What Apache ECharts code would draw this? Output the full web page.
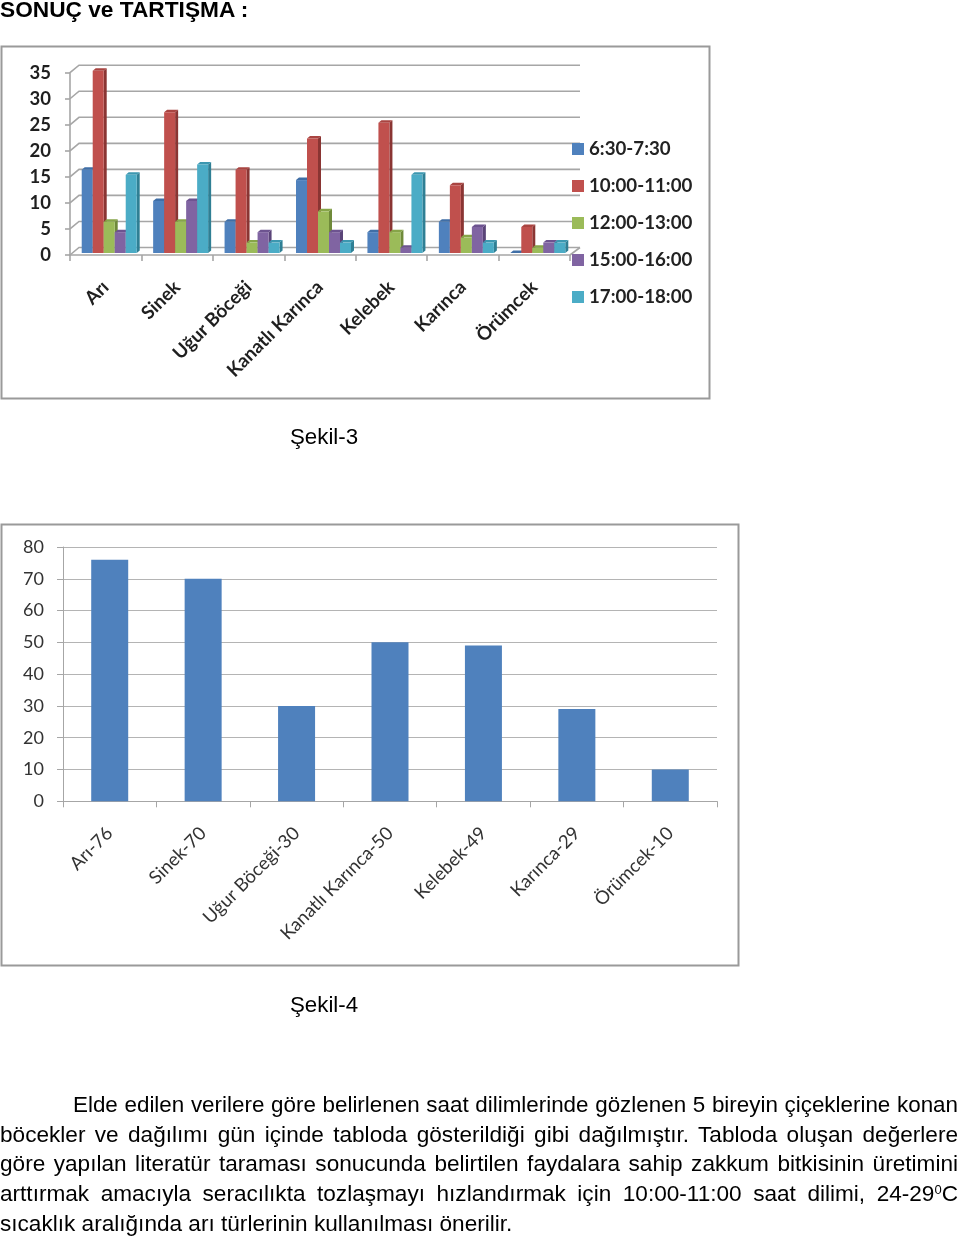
<!DOCTYPE html>
<html lang="tr">
<head>
<meta charset="utf-8">
<script src="https://cdn.jsdelivr.net/npm/echarts@6/dist/echarts.min.js"></script>
<style>
html,body{margin:0;padding:0;background:#fff;width:960px;height:1239px;overflow:hidden}
#chart{position:absolute;left:0;top:0;width:960px;height:1239px}
.t{position:absolute;font-family:"Liberation Sans",Arial,sans-serif;font-size:22.6px;color:#000;white-space:nowrap;line-height:26px}
.j{left:0;width:958px;white-space:normal;text-align:justify;text-align-last:justify}
sup{font-size:13px;line-height:0;vertical-align:7px}
</style>
</head>
<body>
<div id="chart"></div>
<div class="t" style="left:0;top:-4px;font-weight:bold;font-size:22.7px">SONUÇ ve TARTIŞMA :</div>
<div class="t" style="left:290px;top:424px;font-size:22.3px">Şekil-3</div>
<div class="t" style="left:290px;top:992px;font-size:22.3px">Şekil-4</div>
<div class="t j" style="top:1092px;left:73px;width:885px;font-size:22.4px">Elde edilen verilere göre belirlenen saat dilimlerinde gözlenen 5 bireyin çiçeklerine konan</div>
<div class="t j" style="top:1122px">böcekler ve dağılımı gün içinde tabloda gösterildiği gibi dağılmıştır. Tabloda oluşan değerlere</div>
<div class="t j" style="top:1151px">göre yapılan literatür taraması sonucunda belirtilen faydalara sahip zakkum bitkisinin üretimini</div>
<div class="t j" style="top:1181px">arttırmak amacıyla seracılıkta tozlaşmayı hızlandırmak için 10:00-11:00 saat dilimi, 24-29<sup>0</sup>C</div>
<div class="t" style="left:0;top:1211px">sıcaklık aralığında arı türlerinin kullanılması önerilir.</div>
<script>
const insects = ['Arı','Sinek','Uğur Böceği','Kanatlı Karınca','Kelebek','Karınca','Örümcek'];
const slotNames = ['6:30-7:30','10:00-11:00','12:00-13:00','15:00-16:00','17:00-18:00'];
const slot1 = [16,10,6,14,4,6,0];
const slot2 = [35,27,16,22,25,13,5];
const slot3 = [6,6,2,8,4,3,1];
const slot4 = [4,10,4,4,1,5,2];
const slot5 = [15,17,2,2,15,2,2];
const ticks1 = [0,5,10,15,20,25,30,35];
const totalNames = ['Arı-76','Sinek-70','Uğur Böceği-30','Kanatlı Karınca-50','Kelebek-49','Karınca-29','Örümcek-10'];
const totals = [76,70,30,50,49,29,10];

const slots = [slot1,slot2,slot3,slot4,slot5];
const faces = ['#4f81bd','#c0504d','#9bbb59','#8064a2','#4bacc6'];
const sides = ['#36608f','#8a3533','#6f8a3a','#5a4478','#2f7f94'];
const tops  = ['#3f6ea6','#a94441','#86a548','#6d5390','#3c97b0'];
const font1 = 'Lato, sans-serif';
const gridLine = '#a6a6a6';
const depthX = 3, depthY = 2.5, barW = 11;

function wallItem(params, api){
  const p = api.coord([0, api.value(1)]);
  const cs = params.coordSys;
  const y = p[1], x0 = cs.x, x1 = cs.x + cs.width;
  const children = [{type:'polyline',shape:{points:[[x0,y],[x0+9,y-7.5],[x1+10,y-7.5]]},
    style:{stroke:gridLine,lineWidth:1.6,fill:null}}];
  if (api.value(1) === 0) children.push({type:'line',shape:{x1:x1,y1:y,x2:x1+10,y2:y-7.5},style:{stroke:gridLine,lineWidth:1.6}});
  return {type:'group',children};
}
function barItem(s){
  return function(params, api){
    const c = api.coord([api.value(0), api.value(1)]);
    const b = api.coord([api.value(0), 0]);
    const x = c[0] - 24 + s * barW;
    const yT = c[1] - 2, yB = b[1] - 2;
    return {type:'group',children:[
      {type:'polygon',shape:{points:[[x+barW,yT],[x+barW+depthX,yT-depthY],[x+barW+depthX,yB-depthY],[x+barW,yB]]},style:{fill:sides[s]}},
      {type:'polygon',shape:{points:[[x,yT],[x+depthX,yT-depthY],[x+barW+depthX,yT-depthY],[x+barW,yT]]},style:{fill:tops[s]}},
      {type:'rect',shape:{x:x,y:yT,width:barW,height:yB-yT},style:{fill:faces[s]}}
    ]};
  };
}
const series = [{type:'custom',name:'wall',silent:true,xAxisIndex:0,yAxisIndex:0,z:1,clip:false,
  data:ticks1.map(t=>[0,t]),encode:{x:0,y:1},renderItem:wallItem}];
slots.forEach((vals,s)=>series.push({type:'custom',name:slotNames[s],xAxisIndex:0,yAxisIndex:0,z:3,clip:false,
  itemStyle:{color:faces[s]},data:vals.map((v,i)=>[i,v]),encode:{x:0,y:1},renderItem:barItem(s)}));
series.push({type:'bar',name:'Toplam',xAxisIndex:1,yAxisIndex:1,barWidth:37,data:totals,
  itemStyle:{color:'#4f81bd'},z:3});

const chart = echarts.init(document.getElementById('chart'),null,{renderer:'canvas'});
chart.setOption({
  animation:false,
  backgroundColor:'#fff',
  graphic:[
    {type:'rect',z:0,shape:{x:1.5,y:46.5,width:708,height:352},style:{fill:'#fff',stroke:'#9a9a9a',lineWidth:2}},
    {type:'rect',z:0,shape:{x:1.5,y:524.5,width:737,height:441},style:{fill:'#fff',stroke:'#9a9a9a',lineWidth:2}}
  ],
  legend:{show:true,data:slotNames,orient:'vertical',left:572,top:138,padding:0,itemWidth:12,itemHeight:12,itemGap:15,
    icon:'rect',textStyle:{fontFamily:font1,fontWeight:'bold',fontSize:18.7,color:'#222',lineHeight:22}},
  grid:[
    {left:70,top:72.7,width:500,height:182.3,containLabel:false},
    {left:63,top:547,width:654,height:254.3,containLabel:false}
  ],
  xAxis:[
    {type:'category',gridIndex:0,data:insects,boundaryGap:true,
      axisLine:{lineStyle:{color:gridLine,width:1.6}},
      axisTick:{show:true,length:6,lineStyle:{color:gridLine,width:1.6},alignWithLabel:false},
      axisLabel:{interval:0,rotate:45,margin:29,fontFamily:font1,fontWeight:'bold',fontSize:18.8,color:'#1f1f1f'}},
    {type:'category',gridIndex:1,data:totalNames,boundaryGap:true,
      axisLine:{lineStyle:{color:'#a6a6a6',width:1}},
      axisTick:{show:true,length:6,lineStyle:{color:'#a6a6a6',width:1}},
      axisLabel:{interval:0,rotate:45,margin:29,fontFamily:font1,fontSize:18.5,color:'#333'}}
  ],
  yAxis:[
    {type:'value',gridIndex:0,min:0,max:35,interval:5,
      axisLine:{show:true,lineStyle:{color:gridLine,width:1.6}},
      axisTick:{show:true,length:5,lineStyle:{color:gridLine,width:1.6}},
      splitLine:{show:false},
      axisLabel:{margin:19,fontFamily:font1,fontWeight:'bold',fontSize:18.5,color:'#1f1f1f'}},
    {type:'value',gridIndex:1,min:0,max:80,interval:10,
      axisLine:{show:true,lineStyle:{color:'#a6a6a6',width:1}},
      axisTick:{show:true,length:6,lineStyle:{color:'#a6a6a6',width:1}},
      splitLine:{show:true,lineStyle:{color:'#b4b4b4',width:1}},
      axisLabel:{margin:19,fontFamily:font1,fontSize:18,color:'#333'}}
  ],
  series
});
</script>
</body>
</html>
